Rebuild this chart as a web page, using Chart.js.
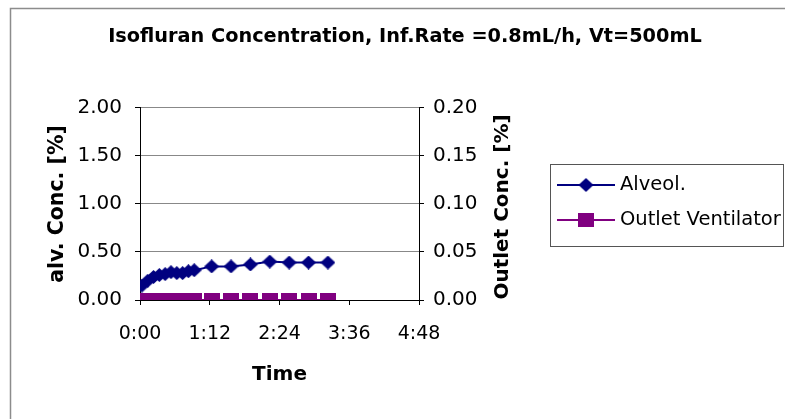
<!DOCTYPE html>
<html>
<head>
<meta charset="utf-8">
<script src="https://cdn.jsdelivr.net/npm/chart.js@4.4.1/dist/chart.umd.min.js"></script>
<style>
  html, body { margin: 0; padding: 0; background: #fff; }
  #wrap { width: 785px; height: 419px; }
</style>
</head>
<body>
<div id="wrap"><canvas id="chart" width="785" height="419"></canvas></div>
<script>
// Sample times (minutes since start) and concentrations [%]
const timeMin    = [2, 8, 14, 20, 26, 32, 38, 44, 50, 56, 74, 94, 114, 134, 154, 174, 194];
const alveolConc = [0.15, 0.20, 0.24, 0.26, 0.27, 0.29, 0.28, 0.28, 0.30, 0.31, 0.35, 0.35, 0.37, 0.40, 0.39, 0.39, 0.39];
const outletConc = [0, 0, 0, 0, 0, 0, 0, 0, 0, 0, 0, 0, 0, 0, 0, 0, 0];

const seriesNames = ['Alveol.', 'Outlet Ventilator'];
const xTickLabels = ['0:00', '1:12', '2:24', '3:36', '4:48'];   // every 72 min
const leftTicks   = ['0.00', '0.50', '1.00', '1.50', '2.00'];
const rightTicks  = ['0.00', '0.05', '0.10', '0.15', '0.20'];

// the original glyphs are wide, DejaVu Sans matches their width best
const FONT = '"DejaVu Sans", Verdana, sans-serif';
const NAVY = '#000080';
const PURPLE = '#800080';

// small canvases used as point markers (excel-ish, slightly wide)
function markerImg(shape, w, h, color) {
  const c = document.createElement('canvas');
  c.width = w; c.height = h;
  const g = c.getContext('2d');
  g.fillStyle = color;
  if (shape === 'diamond') {
    g.beginPath();
    g.moveTo(w / 2, 0); g.lineTo(w, h / 2); g.lineTo(w / 2, h); g.lineTo(0, h / 2);
    g.closePath(); g.fill();
  } else {
    g.fillRect(0, 0, w, h);
  }
  return c;
}
const diamond = markerImg('diamond', 15, 14, NAVY);
const square = markerImg('square', 16, 14, PURPLE);

// background, outer frame, right axis title and legend box
const decor = {
  id: 'decor',
  beforeDraw(chart) {
    const ctx = chart.ctx;
    ctx.save();
    ctx.fillStyle = '#fff';
    ctx.fillRect(0, 0, chart.width, chart.height);
    ctx.strokeStyle = '#8c8c8c';
    ctx.lineWidth = 1.5;
    ctx.strokeRect(10.5, 8.5, 900, 600);
    ctx.restore();
  },
  afterDraw(chart) {
    const ctx = chart.ctx;
    ctx.save();
    // right axis title reads bottom-to-top
    ctx.translate(503, 207);
    ctx.rotate(-Math.PI / 2);
    ctx.font = 'bold 20px ' + FONT;
    ctx.fillStyle = '#000';
    ctx.textAlign = 'center';
    ctx.textBaseline = 'middle';
    ctx.fillText('Outlet Conc. [%]', 0, 0);
    ctx.restore();

    // legend
    ctx.save();
    ctx.strokeStyle = '#555';
    ctx.lineWidth = 1;
    ctx.strokeRect(550.5, 164.5, 233, 82);
    const rows = [185, 220];
    chart.data.datasets.forEach((ds, i) => {
      const y = rows[i];
      ctx.strokeStyle = ds.borderColor;
      ctx.lineWidth = 2;
      ctx.beginPath();
      ctx.moveTo(557, y); ctx.lineTo(615, y);
      ctx.stroke();
      const img = ds.pointStyle;
      ctx.drawImage(img, 586 - img.width / 2, y - img.height / 2);
      ctx.fillStyle = '#000';
      ctx.font = '19.5px ' + FONT;
      ctx.textAlign = 'left';
      ctx.textBaseline = 'middle';
      ctx.fillText(ds.label, 620, y);
    });
    ctx.restore();
  }
};

const ctx = document.getElementById('chart').getContext('2d');
new Chart(ctx, {
  type: 'line',
  data: {
    datasets: [
      {
        label: seriesNames[0],
        data: timeMin.map((t, i) => ({ x: t, y: alveolConc[i] })),
        borderColor: NAVY,
        backgroundColor: NAVY,
        borderWidth: 2,
        pointStyle: diamond,
        yAxisID: 'y'
      },
      {
        label: seriesNames[1],
        data: timeMin.map((t, i) => ({ x: t, y: outletConc[i] })),
        borderColor: PURPLE,
        backgroundColor: PURPLE,
        borderWidth: 2,
        pointStyle: square,
        yAxisID: 'y2'
      }
    ]
  },
  options: {
    responsive: false,
    animation: false,
    devicePixelRatio: 1,
    layout: { padding: { left: 25, right: 0, top: 0, bottom: 0 } },
    plugins: {
      legend: { display: false },
      tooltip: { enabled: false },
      title: {
        display: true,
        text: 'Isofluran Concentration, Inf.Rate =0.8mL/h, Vt=500mL',
        color: '#000',
        font: { family: FONT, size: 19.3, weight: 'bold' },
        padding: { top: 25, bottom: 59.8 }
      }
    },
    scales: {
      x: {
        type: 'linear',
        min: 0,
        max: 288,
        ticks: {
          stepSize: 72,
          color: '#000',
          padding: 18,
          font: { family: FONT, size: 19 },
          callback: v => xTickLabels[Math.round(v / 72)]
        },
        grid: { drawOnChartArea: false, drawTicks: true, tickLength: 5, tickColor: '#000' },
        border: { color: '#000', width: 1 },
        title: {
          display: true,
          text: 'Time',
          color: '#000',
          font: { family: FONT, size: 20, weight: 'bold' },
          padding: { top: 0, bottom: 32 }
        },
        afterFit: s => { s.height = 119; }
      },
      y: {
        position: 'left',
        min: 0,
        max: 2,
        ticks: {
          stepSize: 0.5,
          color: '#000',
          padding: 13,
          font: { family: FONT, size: 20 },
          callback: v => leftTicks[Math.round(v / 0.5)]
        },
        grid: { color: '#888', lineWidth: 1, drawTicks: true, tickLength: 5, tickColor: '#000' },
        border: { color: '#000', width: 1 },
        title: {
          display: true,
          text: 'alv. Conc. [%]',
          color: '#000',
          font: { family: FONT, size: 20.5, weight: 'bold' },
          padding: { top: 20 }
        },
        afterFit: s => { s.width = 115; }
      },
      y2: {
        position: 'right',
        min: 0,
        max: 0.2,
        ticks: {
          stepSize: 0.05,
          color: '#000',
          padding: 9,
          font: { family: FONT, size: 20 },
          callback: v => rightTicks[Math.round(v / 0.05)]
        },
        grid: { drawOnChartArea: false, drawTicks: true, tickLength: 5, tickColor: '#000' },
        border: { color: '#000', width: 1 },
        afterFit: s => { s.width = 366; }
      }
    }
  },
  plugins: [decor]
});
</script>
</body>
</html>
